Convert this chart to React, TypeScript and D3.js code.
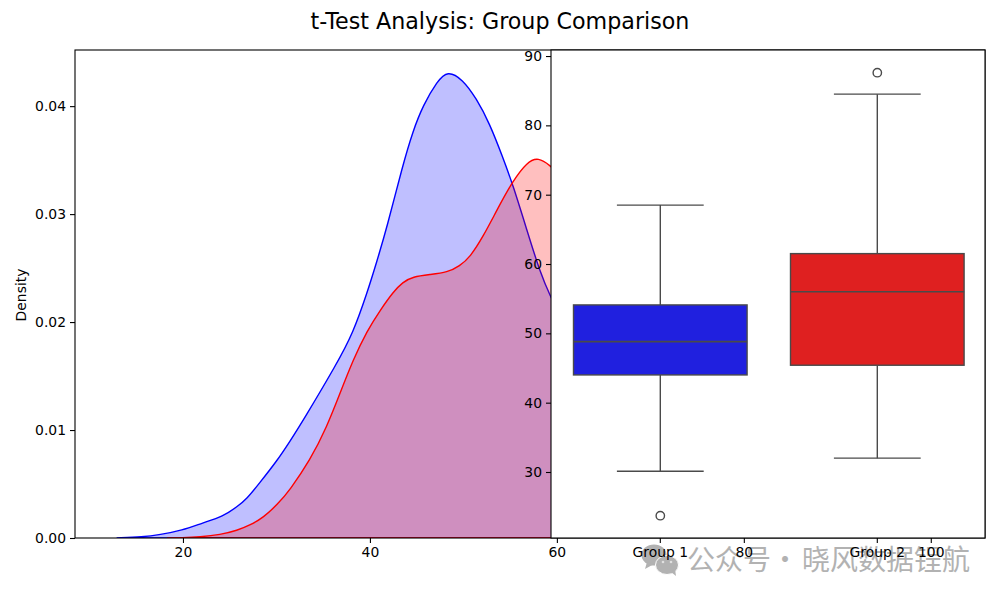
import React, { FC, useEffect, useRef } from 'react'
import * as d3 from 'd3'

// density curves
const blueX = [12.9, 15.7, 17.5, 19.9, 22.1, 24.3, 25.8, 26.8, 28.2, 30.1, 31.4, 32.8, 36.5, 38.2, 39.7, 40.7, 41.8, 43.5, 44.6, 45.7, 47.2, 48.3, 49.9, 51.4, 52.8, 54.2, 55.3, 56.8, 58.2, 59.4, 60]
const blueY = [0, 0.0001, 0.0003, 0.0007, 0.0014, 0.002, 0.0029, 0.0036, 0.0051, 0.0072, 0.0089, 0.0108, 0.0162, 0.019, 0.0227, 0.0255, 0.0287, 0.0345, 0.0377, 0.0401, 0.0423, 0.0433, 0.0425, 0.0407, 0.0384, 0.0353, 0.0327, 0.0285, 0.0246, 0.0222, 0.0212]
const redX = [18.3, 19.9, 21.8, 24, 25.8, 27.2, 28.6, 30.1, 31.4, 33.6, 35.4, 36.8, 38.2, 39.7, 41.1, 42.5, 43.5, 44.6, 46.4, 48.3, 49.6, 50.7, 52.1, 53.6, 55.3, 56.8, 58, 59.4, 60]
const redY = [0, 0.00003, 0.0001, 0.0003, 0.0007, 0.0012, 0.0019, 0.0031, 0.0044, 0.0072, 0.0103, 0.0134, 0.0165, 0.0192, 0.0211, 0.0228, 0.0237, 0.0242, 0.0244, 0.0246, 0.0252, 0.026, 0.0279, 0.0304, 0.0331, 0.0348, 0.0353, 0.0344, 0.0339]

// box plot
const groups = ['Group 1', 'Group 2']
const boxColors = ['#2020df', '#df2020']
const whiskerLow = [30.1, 32]
const q1 = [44, 45.4]
const medians = [48.8, 56]
const q3 = [54.1, 61.5]
const whiskerHigh = [68.5, 84.5]
const outliers = [23.7, 87.6]

const densityTicks = [0, 0.01, 0.02, 0.03, 0.04]
const xTicks = [20, 40, 60, 80, 100]
const valueTicks = [30, 40, 50, 60, 70, 80, 90]

const W = 1000
const H = 600
const left = 75
const right = 985
const top = 50
const bottom = 538
const insetLeft = 551

const fontFamily = '"DejaVu Sans", sans-serif'
const cjkFont = '"Noto Sans CJK SC", sans-serif'
const gray = '#4a4a4a'
const markColor = '#b2b2b2'

const x = d3.scaleLinear().domain([8.45, 105.8]).range([left, right])
const y = d3.scaleLinear().domain([0, 0.0452]).range([bottom, top])
const band = d3.scaleBand().domain(groups).range([insetLeft + 0.8, right + 0.8])
const yBox = d3.scaleLinear().domain([20.48, 90.87]).range([bottom, top])

const App: FC = () => {
	const xAxis = useRef<SVGGElement>(null)
	const yAxis = useRef<SVGGElement>(null)
	const groupAxis = useRef<SVGGElement>(null)
	const boxAxis = useRef<SVGGElement>(null)

	useEffect(() => {
		const style = (g: any) => {
			g.select('.domain').remove()
			g.selectAll('line').attr('stroke', '#000').attr('stroke-width', 1.1)
			g.selectAll('text').attr('fill', '#000').style('font-family', fontFamily).style('font-size', '13.9px')
		}
		d3.select(xAxis.current!)
			.call(d3.axisBottom(x).tickValues(xTicks).tickFormat(d3.format('d') as any).tickSize(5).tickPadding(4) as any)
			.call(style)
		d3.select(yAxis.current!)
			.call(d3.axisLeft(y).tickValues(densityTicks).tickFormat(d3.format('.2f') as any).tickSize(5).tickPadding(4) as any)
			.call(style)
		d3.select(groupAxis.current!)
			.call(d3.axisBottom(band).tickSize(5).tickPadding(4).offset(0) as any)
			.call(style)
		d3.select(boxAxis.current!)
			.call(d3.axisLeft(yBox).tickValues(valueTicks).tickFormat(d3.format('d') as any).tickSize(5).tickPadding(4) as any)
			.call(style)
	}, [])

	const densityPath = (xs: number[], ys: number[]) =>
		d3
			.area<number>()
			.x((_, i) => x(xs[i]))
			.y0(bottom)
			.y1((_, i) => y(ys[i]))
			.curve(d3.curveBasis)(xs) as string

	const boxWidth = band.bandwidth() * 0.8
	const capWidth = boxWidth / 2

	return (
		<svg
			width={W}
			height={H}
			viewBox={`0 0 ${W} ${H}`}
			style={{ position: 'absolute', left: 0, top: 0, background: '#fff' }}
		>
			<text x={500} y={29} textAnchor="middle" fontFamily={fontFamily} fontSize={22.2} fill="#000">
				t-Test Analysis: Group Comparison
			</text>

			{/* watermark, under the tick labels */}
			<g fill={markColor}>
				<ellipse cx={654} cy={555} rx={12.5} ry={10.5} />
				<path d="M647 562 L645 569 L654 564 Z" />
				<ellipse cx={667} cy={565} rx={11.5} ry={9.5} stroke="#fff" strokeWidth={1} />
				<path d="M671 572 L676 576 L675 569 Z" />
				<circle cx={663} cy={562} r={1.3} fill="#e0e0e0" />
				<circle cx={671} cy={562} r={1.3} fill="#e0e0e0" />
				<text x={687} y={570} fontFamily={cjkFont} fontSize={28}>
					公众号
				</text>
				<text x={785} y={570} textAnchor="middle" fontFamily={cjkFont} fontSize={28}>
					·
				</text>
				<text x={802} y={570} fontFamily={cjkFont} fontSize={28}>
					晓风数据锃航
				</text>
			</g>

			{/* density axes */}
			<clipPath id="plot">
				<rect x={left} y={top} width={right - left} height={bottom - top} />
			</clipPath>
			<g clipPath="url(#plot)">
				<path d={densityPath(blueX, blueY)} fill="#0000ff" fillOpacity={0.25} stroke="#0000ff" strokeWidth={1.4} />
				<path d={densityPath(redX, redY)} fill="#ff0000" fillOpacity={0.25} stroke="#ff0000" strokeWidth={1.4} />
			</g>
			<rect x={left} y={top} width={right - left} height={bottom - top} fill="none" stroke="#000" strokeWidth={1.1} />
			<g ref={xAxis} transform={`translate(0, ${bottom})`} />
			<g ref={yAxis} transform={`translate(${left}, 0)`} />
			<text
				transform={`translate(21, ${(top + bottom) / 2 + 1}) rotate(-90)`}
				dominantBaseline="central"
				textAnchor="middle"
				fontFamily={fontFamily}
				fontSize={13.9}
				fill="#000"
			>
				Density
			</text>

			{/* box plot axes, laid over the right part of the density axes */}
			<rect x={insetLeft} y={top} width={right - insetLeft} height={bottom - top} fill="#fff" />
			{groups.map((g, i) => {
				const cx = (band(g) as number) + band.bandwidth() / 2
				return (
					<g key={g} stroke={gray} strokeWidth={1.4}>
						<line x1={cx} x2={cx} y1={yBox(q3[i])} y2={yBox(whiskerHigh[i])} />
						<line x1={cx} x2={cx} y1={yBox(q1[i])} y2={yBox(whiskerLow[i])} />
						<line x1={cx - capWidth / 2} x2={cx + capWidth / 2} y1={yBox(whiskerHigh[i])} y2={yBox(whiskerHigh[i])} />
						<line x1={cx - capWidth / 2} x2={cx + capWidth / 2} y1={yBox(whiskerLow[i])} y2={yBox(whiskerLow[i])} />
						<rect
							x={cx - boxWidth / 2}
							y={yBox(q3[i])}
							width={boxWidth}
							height={yBox(q1[i]) - yBox(q3[i])}
							fill={boxColors[i]}
						/>
						<line x1={cx - boxWidth / 2} x2={cx + boxWidth / 2} y1={yBox(medians[i])} y2={yBox(medians[i])} strokeWidth={1.7} />
						<circle cx={cx} cy={yBox(outliers[i])} r={4.2} fill="none" />
					</g>
				)
			})}
			<rect x={insetLeft} y={top} width={right - insetLeft} height={bottom - top} fill="none" stroke="#000" strokeWidth={1.1} />
			<g ref={groupAxis} transform={`translate(0, ${bottom})`} />
			<g ref={boxAxis} transform={`translate(${insetLeft}, 0)`} />
		</svg>
	)
}

export default App
